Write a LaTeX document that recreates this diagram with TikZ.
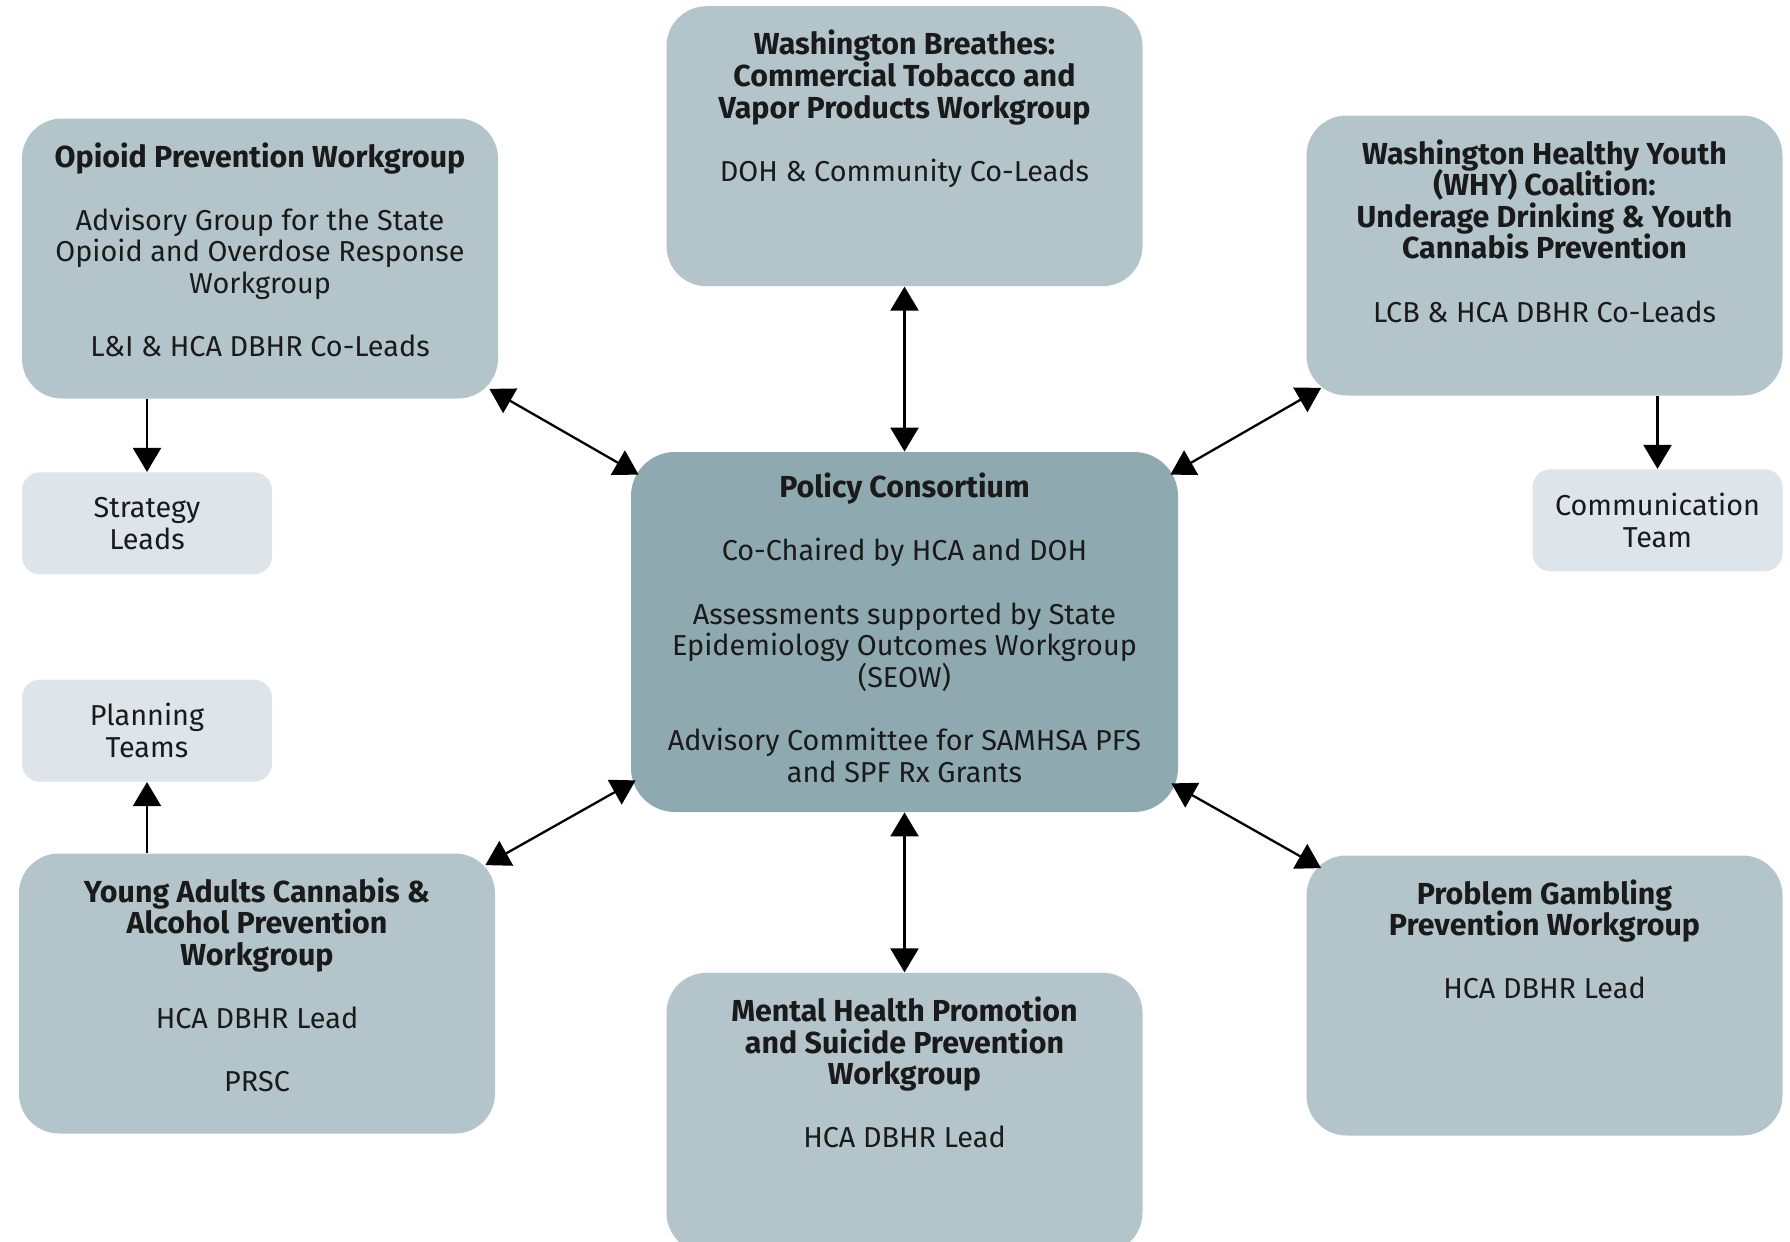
\documentclass[tikz,border=0pt]{standalone}
\usepackage{fontspec}
\setmainfont{Fira Sans}
\usepackage{tikz}
\usetikzlibrary{arrows.meta}
\usetikzlibrary{positioning}
\definecolor{groupfill}{HTML}{B3C5CB}
\definecolor{hubfill}{HTML}{8FA9B1}
\definecolor{teamfill}{HTML}{DDE4EA}
\definecolor{ink}{HTML}{1A1A1A}
\newcommand{\hd}[1]{{\fontsize{15.2}{15.8}\selectfont\bfseries #1}}
\tikzstyle{group} = [fill=groupfill, rectangle, rounded corners=20pt,
minimum width=238pt, minimum height=140pt]
\tikzstyle{hub} = [fill=hubfill, rectangle, rounded corners=22pt,
minimum width=273.5pt, minimum height=180pt]
\tikzstyle{team} = [fill=teamfill, rectangle, rounded corners=9pt,
minimum width=125pt, minimum height=51pt, align=center, inner sep=0pt,
text=ink, font=\fontsize{14.4}{16}\selectfont]
\tikzstyle{txt} = [align=center, inner sep=0pt, text=ink,
font={\fontsize{14.4}{15.8}\selectfont\lineskiplimit=-8pt}]
\tikzstyle{link} = [<->, line width=1.15pt]
\tikzstyle{feed} = [->, line width=1.15pt]

\begin{document}
\begin{tikzpicture}[x=0.5pt, y=-0.5pt, >={Triangle[length=12pt,width=14pt]}]
	\clip (0,0) rectangle (1790,1242);
	
	\node [hub] (hub) at (904.5,632) {};
	\node [txt] (hubtxt) [below=10.5pt of hub.north] {\hd{Policy Consortium}\\[15.8pt]
		Co-Chaired by HCA and DOH\\[15.8pt]
		Assessments supported by State\\Epidemiology Outcomes Workgroup\\(SEOW)\\[15.8pt]
		Advisory Committee for SAMHSA PFS\\and SPF Rx Grants};
	
	\node [group] (breathes) [above=82.5pt of hub] {};
	\node [txt] (breathestxt) [below=12pt of breathes.north] {\hd{Washington Breathes:}\\
		\hd{Commercial Tobacco and}\\\hd{Vapor Products Workgroup}\\[15.8pt]
		DOH \& Community Co-Leads};
	
	\node [group] (opioid) at (260,258.5) {};
	\node [txt] (opioidtxt) [below=12pt of opioid.north] {\hd{Opioid Prevention Workgroup}\\[15.8pt]
		Advisory Group for the State\\Opioid and Overdose Response\\Workgroup\\[15.8pt]
		L\&I \& HCA DBHR Co-Leads};
	
	\node [group] (why) at (1544.5,255.5) {};
	\node [txt] (whytxt) [below=12pt of why.north] {\hd{Washington Healthy Youth}\\
		\hd{(WHY) Coalition:}\\\hd{Underage Drinking \& Youth}\\
		\hd{Cannabis Prevention}\\[15.8pt]
		LCB \& HCA DBHR Co-Leads};
	
	\node [group] (young) at (257,993.5) {};
	\node [txt] (youngtxt) [below=12pt of young.north] {\hd{Young Adults Cannabis \&}\\
		\hd{Alcohol Prevention}\\\hd{Workgroup}\\[15.8pt]
		HCA DBHR Lead\\[15.8pt]
		PRSC};
	
	\node [group] (mental) [below=80pt of hub] {};
	\node [txt] (mentaltxt) [below=12pt of mental.north] {\hd{Mental Health Promotion}\\
		\hd{and Suicide Prevention}\\\hd{Workgroup}\\[15.8pt]
		HCA DBHR Lead};
	
	\node [group] (gamble) at (1544.5,995.5) {};
	\node [txt] (gambletxt) [below=12pt of gamble.north] {\hd{Problem Gambling}\\
		\hd{Prevention Workgroup}\\[15.8pt]
		HCA DBHR Lead};
	
	\node [team] (strategy) [below right=36.5pt and 0pt of opioid.south west] {Strategy\\Leads};
	\node [team] (comm) [below left=36.5pt and 0pt of why.south east] {Communication\\Team};
	\node [team] (planning) [above right=35.5pt and 1.5pt of young.north west] {Planning\\Teams};
	
	\draw [feed] (opioid.south -| strategy) -- (strategy);
	\draw [feed] (why.south -| comm) -- (comm);
	\draw [feed] (young.north -| planning) -- (planning);
	
	\draw [link] (breathes) -- (hub);
	\draw [link] (hub) -- (mental);
	\draw [link] ([shift={(-9,-10)}]opioid.south east) -- ([shift={(8,23)}]hub.north west);
	\draw [link] ([shift={(15,-8)}]why.south west) -- ([shift={(-8,23)}]hub.north east);
	\draw [link] ([shift={(-10,12)}]young.north east) -- ([shift={(5,-32)}]hub.south west);
	\draw [link] ([shift={(15,13)}]gamble.north west) -- ([shift={(-7,-29)}]hub.south east);
	
\end{tikzpicture}
\end{document}
